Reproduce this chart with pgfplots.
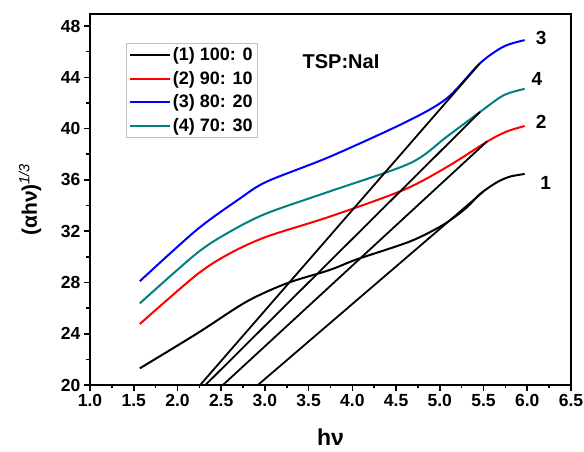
\documentclass[border=0pt]{standalone}
\usepackage{fontspec}
\setmainfont{Liberation Sans}
\usepackage{pgfplots}
\pgfplotsset{compat=1.18}
\definecolor{tealc}{RGB}{0,128,128}
\begin{document}
\begin{tikzpicture}
\useasboundingbox (-90pt,-67pt) rectangle (494pt,385pt);
\begin{axis}[
  scale only axis, width=481pt, height=371pt,
  xmin=1, xmax=6.5, ymin=20, ymax=48.94,
  xtick={1,1.5,...,6.5}, ytick={20,24,...,48},
  minor x tick num=1, minor y tick num=1,
  tick pos=left, tick align=outside,
  major tick length=6pt, minor tick length=3.5pt,
  every tick/.style={black, line width=1.6pt},
  axis line style={line width=2pt},
  /pgf/number format/assume math mode=true,
  xticklabel={\pgfmathprintnumber[fixed,fixed zerofill,precision=1]{\tick}},
  yticklabel={\pgfmathprintnumber[fixed,precision=0]{\tick}},
  tick label style={font=\fontsize{17.5}{17.5}\selectfont\bfseries},
  xlabel={hν},
  ylabel={(αhν)\textsuperscript{\mdseries\itshape 1/3}},
  xlabel style={at={(axis description cs:0.5,-0.14)}, anchor=center, font=\fontsize{23}{23}\selectfont\bfseries},
  ylabel style={at={(axis description cs:-0.125,0.5)}, anchor=center, rotate=0, font=\fontsize{21}{21}\selectfont\bfseries},
  legend style={at={(axis description cs:0.075,0.922)}, anchor=north west, draw=gray!50, line width=0.8pt,
    font=\fontsize{18}{18}\selectfont\bfseries, inner sep=2.5pt, row sep=5pt},
  legend cell align=left,
  legend image code/.code={\draw[#1] (0pt,0pt) -- (40pt,0pt);},
]
\addplot[black, line width=2pt, smooth] coordinates {
(1.57,21.3) (2.22,24.0) (2.79,26.5) (3.25,27.93) (3.74,28.97) (4.05,29.8) (4.66,31.2) (5.04,32.5) (5.30,33.8) (5.46,34.9) (5.65,35.8) (5.80,36.25) (5.97,36.46)};
\addlegendentry{(1) 100: 0}
\addplot[red, line width=2pt, smooth] coordinates {
(1.57,24.76) (2.22,28.6) (2.6,30.27) (3.02,31.57) (3.74,33.13) (4.58,35.2) (5.08,37.0) (5.54,38.98) (5.76,39.76) (5.97,40.2)};
\addlegendentry{(2) 90: 10}
\addplot[blue, line width=2pt, smooth] coordinates {
(1.57,28.1) (2.22,32.1) (2.715,34.55) (3.02,35.86) (3.74,37.8) (4.62,40.54) (5.08,42.36) (5.46,45.1) (5.73,46.4) (5.97,46.9)};
\addlegendentry{(3) 80: 20}
\addplot[tealc, line width=2pt, smooth] coordinates {
(1.57,26.37) (2.22,30.27) (2.6,31.96) (3.02,33.39) (3.74,35.1) (4.66,37.3) (5.08,39.37) (5.46,41.3) (5.73,42.6) (5.97,43.1)};
\addlegendentry{(4) 70: 30}
\addplot[black, line width=1.8pt, forget plot] coordinates {(2.26,20) (5.46,45.1)};
\addplot[black, line width=1.8pt, forget plot] coordinates {(2.32,20) (5.46,41.3)};
\addplot[black, line width=1.8pt, forget plot] coordinates {(2.52,20) (5.54,39.0)};
\addplot[black, line width=1.8pt, forget plot] coordinates {(2.92,20) (5.50,35.1)};
\node[font=\fontsize{20}{20}\selectfont\bfseries] at (axis cs:3.87,45.2) {TSP:NaI};
\node[font=\fontsize{19}{19}\selectfont\bfseries] at (axis cs:6.16,47.1) {3};
\node[font=\fontsize{19}{19}\selectfont\bfseries] at (axis cs:6.11,43.9) {4};
\node[font=\fontsize{19}{19}\selectfont\bfseries] at (axis cs:6.16,40.5) {2};
\node[font=\fontsize{19}{19}\selectfont\bfseries] at (axis cs:6.21,35.75) {1};
\end{axis}
\end{tikzpicture}
\end{document}
